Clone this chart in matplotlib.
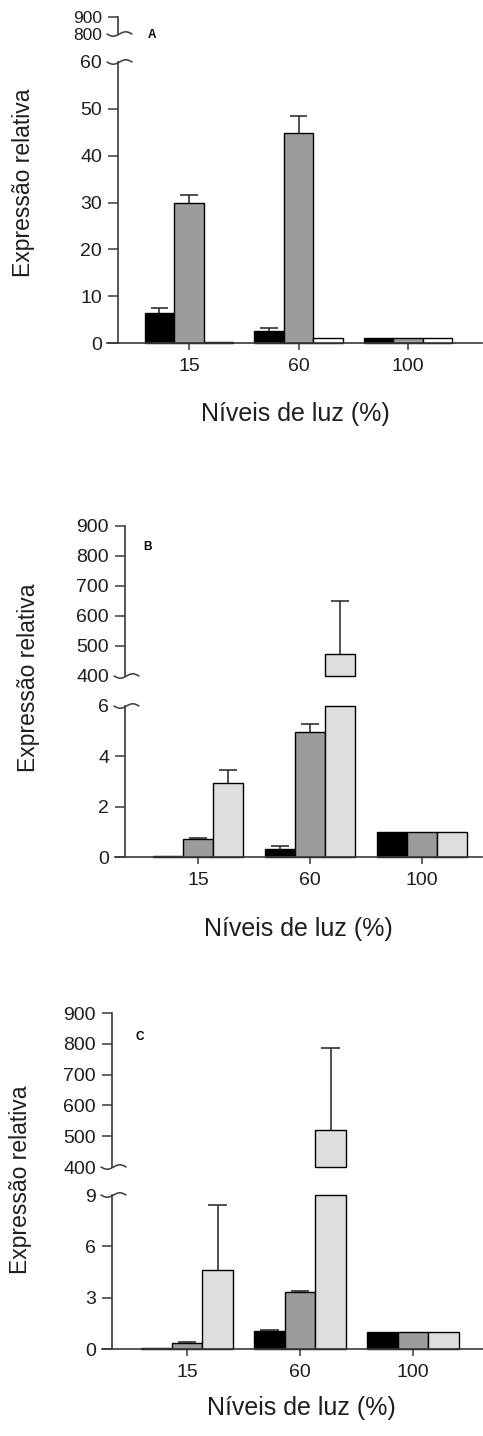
import numpy as np
import matplotlib
matplotlib.use("Agg")
import matplotlib.pyplot as plt
from matplotlib.lines import Line2D
from matplotlib.transforms import IdentityTransform

plt.rcParams['font.family'] = ['Liberation Sans', 'DejaVu Sans']

# ---- data -------------------------------------------------------------
levels = ['15', '60', '100']

a_black = [6.5, 2.6, 1.0]
a_black_err = [1.0, 0.7, 0.0]
a_gray = [30.0, 44.8, 1.0]
a_gray_err = [1.6, 3.6, 0.0]
a_light = [0.3, 1.1, 1.0]
a_light_err = [0.0, 0.0, 0.0]
a_lower_ticks = [0, 10, 20, 30, 40, 50, 60]
a_upper_ticks = [800, 900]

b_black = [0.05, 0.3, 1.0]
b_black_err = [0.0, 0.13, 0.0]
b_gray = [0.72, 4.95, 1.0]
b_gray_err = [0.03, 0.32, 0.0]
b_light = [2.95, 475.0, 1.0]
b_light_err = [0.5, 175.0, 0.0]
b_lower_ticks = [0, 2, 4, 6]
b_upper_ticks = [400, 500, 600, 700, 800, 900]

c_black = [0.05, 1.05, 1.0]
c_black_err = [0.0, 0.05, 0.0]
c_gray = [0.35, 3.35, 1.0]
c_gray_err = [0.07, 0.05, 0.0]
c_light = [4.6, 520.0, 1.0]
c_light_err = [3.8, 265.0, 0.0]
c_lower_ticks = [0, 3, 6, 9]
c_upper_ticks = [400, 500, 600, 700, 800, 900]

# ---- figure -----------------------------------------------------------
W, H = 483, 1436
fig = plt.figure(figsize=(W / 100, H / 100), dpi=100)
fig.patch.set_facecolor('white')

AXC = '#3a3a3a'
TXT = '#1e1e1e'
BAR_W = 0.27
TICK_FS = 14
EDGE_LW = 1.0


def px_rect(x0, x1, ytop, ybot):
    return [x0 / W, 1 - ybot / H, (x1 - x0) / W, (ybot - ytop) / H]


def wave(ax, yval, spine_frac, left=11, right=14, amp=2.2):
    """Draw a small wavy break mark across the y spine at data value yval."""
    xd = ax.transAxes.transform((spine_frac, 0))[0]
    yd = ax.transData.transform((0, yval))[1]
    t = np.linspace(0, 1, 60)
    xs = xd - left + (left + right) * t
    ys = yd - amp * np.sin(2 * np.pi * t)
    fig.add_artist(Line2D(xs, ys, transform=IdentityTransform(), color=AXC,
                          lw=1.1, solid_capstyle='round'))


def style_y(ax, spine_frac, ticks, break_val, fs):
    for s in ('top', 'right'):
        ax.spines[s].set_visible(False)
    ax.spines['left'].set_position(('axes', spine_frac))
    ax.spines['left'].set_color(AXC)
    ax.spines['left'].set_linewidth(1.2)
    ax.set_yticks(ticks)
    ax.set_yticklabels([str(t) for t in ticks])
    ax.tick_params(axis='y', direction='out', length=7.5, width=1.1, color=AXC,
                   labelsize=fs, labelcolor=TXT, pad=4)
    for tk, loc in zip(ax.yaxis.get_major_ticks(), ticks):
        if loc == break_val:
            tk.tick1line.set_visible(False)


def panel(series, errs, colors, lower_ticks, upper_ticks, lay, letter):
    x0, x1, spine = lay['x0'], lay['x1'], lay['spine']
    step = lay['step']
    xlim = (-(lay['tick0'] - x0) / step, (x1 - lay['tick0']) / step)
    spine_frac = (spine - x0) / (x1 - x0)
    x = np.arange(len(levels))
    offs = [-BAR_W, 0.0, BAR_W]
    lo_top = lower_ticks[-1]
    up_lo, up_hi = upper_ticks[0], upper_ticks[-1]

    axl = fig.add_axes(px_rect(x0, x1, lay['low_top'], lay['low_bot']))
    axu = fig.add_axes(px_rect(x0, x1, lay['up_top'], lay['up_bot']))
    for ax in (axl, axu):
        ax.set_xlim(*xlim)
        ax.patch.set_alpha(0)
    axl.set_ylim(0, lo_top)
    axu.set_ylim(up_lo, up_hi)

    cap = 0.3 * BAR_W
    for vals, err, col, off in zip(series, errs, colors, offs):
        vals = np.asarray(vals, float)
        err = np.asarray(err, float)
        xs = x + off
        # lower segment: bars are capped at the top of the lower range
        axl.bar(xs, np.minimum(vals, lo_top), BAR_W, color=col,
                edgecolor='black', linewidth=EDGE_LW, zorder=2, clip_on=False)
        for xi, v, e in zip(xs, vals, err):
            if v > up_lo:
                axu.bar(xi, v - up_lo, BAR_W, bottom=up_lo, color=col,
                        edgecolor='black', linewidth=EDGE_LW, zorder=2,
                        clip_on=False)
                tgt = axu
            else:
                tgt = axl
            if e > 0:
                tgt.vlines(xi, v, v + e, color='#333333', lw=1.2, zorder=1)
                tgt.hlines(v + e, xi - cap, xi + cap, color='#333333', lw=1.2, zorder=1)

    # lower axes: x axis + y axis
    style_y(axl, spine_frac, lower_ticks, lo_top, TICK_FS)
    axl.spines['bottom'].set_color(AXC)
    axl.spines['bottom'].set_linewidth(1.2)
    axl.spines['bottom'].set_zorder(3)
    axl.set_xticks(x)
    axl.set_xticklabels(levels)
    axl.tick_params(axis='x', direction='out', length=5, width=1.1, color=AXC,
                    labelsize=TICK_FS, labelcolor=TXT, pad=6)

    # upper axes: only the y axis
    style_y(axu, spine_frac, upper_ticks, up_lo, lay.get('up_fs', TICK_FS))
    axu.spines['bottom'].set_visible(False)
    axu.set_xticks([])

    wave(axl, lo_top, spine_frac)
    wave(axu, up_lo, spine_frac)

    fig.text(lay['letter'][0] / W, 1 - lay['letter'][1] / H, letter,
             fontsize=8.5, fontweight='bold', ha='center', va='center', color='black')
    fig.text(lay['ylab'][0] / W, 1 - lay['ylab'][1] / H, 'Expressão relativa',
             fontsize=16.5, rotation=90, ha='center', va='center', color=TXT)
    fig.text(lay['xlab'][0] / W, 1 - lay['xlab'][1] / H, 'Níveis de luz (%)',
             fontsize=18, ha='center', va='center', color=TXT)


lay_a = dict(x0=107, x1=482, spine=118, tick0=189, step=109.5,
             low_top=62, low_bot=343, up_top=17, up_bot=34, up_fs=12.5,
             letter=(152, 35), ylab=(24, 183), xlab=(295, 414))
lay_b = dict(x0=115, x1=482, spine=125, tick0=198, step=112,
             low_top=706, low_bot=857, up_top=526, up_bot=676,
             letter=(147, 547), ylab=(29, 678), xlab=(298, 929))
lay_c = dict(x0=102, x1=483, spine=112, tick0=187, step=113,
             low_top=1195, low_bot=1349, up_top=1013, up_bot=1167,
             letter=(140, 1037), ylab=(21, 1180), xlab=(301, 1408))

panel([a_black, a_gray, a_light], [a_black_err, a_gray_err, a_light_err],
      ['black', '#9c9c9c', 'white'], a_lower_ticks, a_upper_ticks, lay_a, 'A')
panel([b_black, b_gray, b_light], [b_black_err, b_gray_err, b_light_err],
      ['black', '#9c9c9c', '#dedede'], b_lower_ticks, b_upper_ticks, lay_b, 'B')
panel([c_black, c_gray, c_light], [c_black_err, c_gray_err, c_light_err],
      ['black', '#9c9c9c', '#dedede'], c_lower_ticks, c_upper_ticks, lay_c, 'C')

fig.savefig('out.png', dpi=100)
